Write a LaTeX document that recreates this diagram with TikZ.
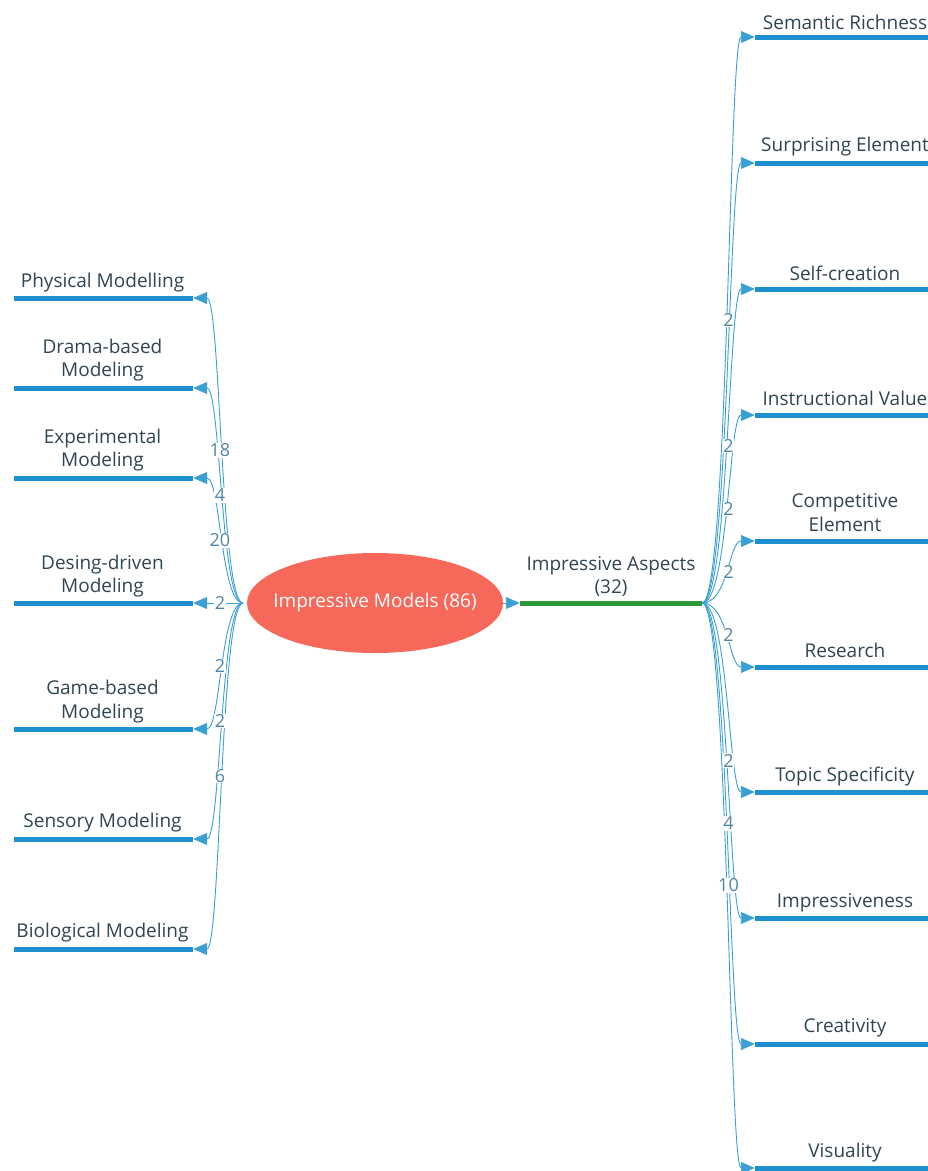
\documentclass[tikz,border=0pt]{standalone}
\usepackage{fontspec}
\setmainfont{Open Sans}
\usetikzlibrary{arrows.meta,shapes.geometric}
\definecolor{txt}{HTML}{2E4553}
\definecolor{barc}{HTML}{1E90D0}
\definecolor{conc}{HTML}{3A9FD2}
\definecolor{labc}{HTML}{4C86A6}
\definecolor{ellc}{HTML}{F5685A}
\definecolor{grnc}{HTML}{2E9A35}
\begin{document}
\begin{tikzpicture}[x=1pt,y=-1pt,
  lbl/.style={text=txt,font=\fontsize{19}{23.5}\selectfont,align=center,inner sep=0pt},
  leafL/.style={rectangle,fill=barc,draw=none,minimum width=179pt,minimum height=5pt,inner sep=0pt},
  leafR/.style={rectangle,fill=barc,draw=none,minimum width=180pt,minimum height=5pt,inner sep=0pt},
  conn/.style={draw=conc,line width=0.9pt,-{Triangle[length=14pt,width=12pt]}},
  num/.style={fill=white,text=labc,font=\fontsize{18}{18}\selectfont,inner sep=0.6pt}]
\useasboundingbox (0,0) rectangle (928,1171);

% centre
\node[ellipse,fill=ellc,draw=none,minimum width=256pt,minimum height=100pt,inner sep=0pt] (core) at (375,603) {};
\node[text=white,font=\fontsize{19}{21}\selectfont,inner sep=0pt] (coreT) at (core.center) {Impressive Models (86)};
\node[rectangle,fill=grnc,draw=none,minimum width=182pt,minimum height=5pt,inner sep=0pt] (asp) at (611,603) {};
\node[lbl] (asplbl) at (611,576.5) {Impressive Aspects\\(32)};
\draw[conn] (core.east) -- (asp.west);
\coordinate (hubL) at (243,603);
\coordinate (hubR) at (asp.east);

% left leaves
\node[leafL] (phys) at (103.5,298) {};
\node[leafL] (drama) at (103.5,388) {};
\node[leafL] (expe) at (103.5,478) {};
\node[leafL] (desg) at (103.5,603) {};
\node[leafL] (game) at (103.5,729) {};
\node[leafL] (sens) at (103.5,839) {};
\node[leafL] (biol) at (103.5,949) {};
\node[lbl] (physT) at (102.5,283) {Physical Modelling};
\node[lbl] (dramaT) at (102.5,360) {Drama-based\\Modeling};
\node[lbl] (expeT) at (102.5,450) {Experimental\\Modeling};
\node[lbl] (desgT) at (102.5,576) {Desing-driven\\Modeling};
\node[lbl] (gameT) at (102.5,701.5) {Game-based\\Modeling};
\node[lbl] (sensT) at (102.5,823) {Sensory Modeling};
\node[lbl] (biolT) at (102.5,933) {Biological Modeling};

% right leaves
\node[leafR] (sema) at (845,37) {};
\node[leafR] (surp) at (845,163) {};
\node[leafR] (self) at (845,289) {};
\node[leafR] (inst) at (845,415) {};
\node[leafR] (comp) at (845,541) {};
\node[leafR] (rese) at (845,667) {};
\node[leafR] (topi) at (845,792) {};
\node[leafR] (impr) at (845,918) {};
\node[leafR] (crea) at (845,1044) {};
\node[leafR] (visu) at (845,1168) {};
\node[lbl] (semaT) at (845,22) {Semantic Richness};
\node[lbl] (surpT) at (845,147) {Surprising Element};
\node[lbl] (selfT) at (845,273) {Self-creation};
\node[lbl] (instT) at (845,398) {Instructional Value};
\node[lbl] (compT) at (845,512.5) {Competitive\\Element};
\node[lbl] (reseT) at (845,650) {Research};
\node[lbl] (topiT) at (845,777) {Topic Specificity};
\node[lbl] (imprT) at (845,903) {Impressiveness};
\node[lbl] (creaT) at (845,1028) {Creativity};
\node[lbl] (visuT) at (845,1153) {Visuality};

% left connectors
\foreach \t in {phys,drama,expe,desg,game,sens,biol}
  \draw[conn] (hubL) .. controls +(-22.5,0) and +(27.5,0) .. (\t.east);
% right connectors
\foreach \t in {sema,surp,self,inst,comp,rese,topi,impr,crea,visu}
  \draw[conn] (hubR) .. controls +(26,0) and +(-26,0) .. (\t.west);

% counts
\foreach \t/\n in {phys/18,drama/4,expe/20,desg/2,game/2,sens/2,biol/6}
  \path (hubL) .. controls +(-22.5,0) and +(27.5,0) .. node[num,pos=0.5] {\n} (\t.east);
\foreach \t/\n in {sema/2,self/2,inst/2,comp/2,rese/2,impr/2,crea/4,visu/10}
  \path (hubR) .. controls +(26,0) and +(-26,0) .. node[num,pos=0.5] {\n} (\t.west);
\end{tikzpicture}
\end{document}
